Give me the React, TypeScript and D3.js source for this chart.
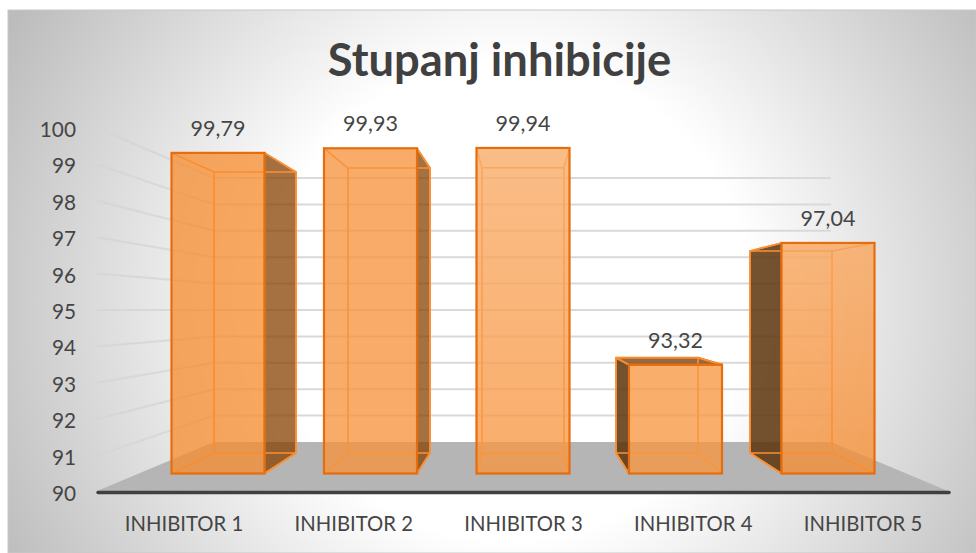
import React from "react";
import * as d3 from "d3";

const categories = ["INHIBITOR 1", "INHIBITOR 2", "INHIBITOR 3", "INHIBITOR 4", "INHIBITOR 5"];
const values = [99.79, 99.93, 99.94, 93.32, 97.04];
const valueLabels = ["99,79", "99,93", "99,94", "93,32", "97,04"];
const ticks = [90, 91, 92, 93, 94, 95, 96, 97, 98, 99, 100];
const title = "Stupanj inhibicije";

const frontTopLight = [0.0, 0.05, 0.24, 0.07, 0.18];
const frontBottomLight = [0.0, 0.05, 0.06, 0.07, 0.0];
const sideColors = ["#884200", "#884200", "#884200", "#5c320a", "#5c320a"];
const sideOpacity = [0.75, 0.75, 0.75, 0.85, 0.85];

const W = 976, H = 553;
const font = "Lato, 'Open Sans', sans-serif";
const txt = "#454545";
const edge = "#e66d0d";
const inner = "#fb9033";

// Perspective planes of the 3-D box
const wallFrontY = d3.scaleLinear().domain([90, 100]).range([492, 128]);
const wallBackY = d3.scaleLinear().domain([90, 100]).range([442, 178]);
const barFrontY = d3.scaleLinear().domain([90, 100]).range([473.5, 146]);
const barBackY = d3.scaleLinear().domain([90, 100]).range([453, 166]);

const idx = categories.map((_, i) => i);
const barFrontX = d3.scaleLinear().domain([0, 4]).range([218, 828]);
const barBackX = d3.scaleLinear().domain([0, 4]).range([255, 791]);
const catX = d3.scalePoint<string>().domain(categories).range([184, 863]);
const FW = 46.5, BW = 41;

const pts = (a: number[][]) => a.map((p) => p.join(",")).join(" ");

export default function App() {
  return (
    <svg width={W} height={H} viewBox={`0 0 ${W} ${H}`} style={{ position: "absolute", left: 0, top: 0, display: "block" }}>
      <defs>
        <radialGradient id="bg" gradientUnits="userSpaceOnUse" cx={510} cy={300} r={570}>
          <stop offset="0" stopColor="#ffffff" />
          <stop offset="0.42" stopColor="#ffffff" />
          <stop offset="1" stopColor="#bcbcbc" />
        </radialGradient>
        {idx.map((i) => (
          <linearGradient key={i} id={`light${i}`} x1={0} x2={0} y1={0} y2={1}>
            <stop offset="0" stopColor="#fff" stopOpacity={frontTopLight[i]} />
            <stop offset="1" stopColor="#fff" stopOpacity={frontBottomLight[i]} />
          </linearGradient>
        ))}
      </defs>
      <rect x={0} y={0} width={W} height={H} fill="#ffffff" />
      <rect x={8} y={10} width={W - 8} height={H - 10} fill="url(#bg)" stroke="#c8c8c8" strokeWidth={1} />

      <text x={499.5} y={76} textAnchor="middle" fontFamily={font} fontWeight={700} fontSize={45.3} fill="#404040">{title}</text>

      {/* walls */}
      {ticks.slice(1).map((t) => (
        <g key={t} fill="none" strokeWidth={2}>
          <line x1={97} x2={214} y1={wallFrontY(t)} y2={wallBackY(t)} stroke="#d4d4d4" opacity={0.8} />
          <line x1={214} x2={831} y1={wallBackY(t)} y2={wallBackY(t)} stroke="#d9d9d9" />
        </g>
      ))}
      {/* floor */}
      <polygon points={pts([[97, 491], [214, wallBackY(90)], [831, wallBackY(90)], [948, 491]])} fill="#b5b5b5" />
      <line x1={98} x2={949} y1={492.5} y2={492.5} stroke="#404040" strokeWidth={3.5} strokeLinecap="round" />

      {ticks.map((t) => (
        <text key={t} x={76} y={wallFrontY(t) + 9} textAnchor="end" fontFamily={font} fontSize={20.8} fill={txt}>{t}</text>
      ))}
      {categories.map((c) => (
        <text key={c} x={catX(c)} y={531} textAnchor="middle" fontFamily={font} fontSize={20.3} fill={txt}>{c}</text>
      ))}

      {/* bars */}
      {idx.map((i) => {
        const v = values[i];
        const fl = barFrontX(i) - FW, fr = barFrontX(i) + FW;
        const bl = barBackX(i) - BW, br = barBackX(i) + BW;
        const ft = barFrontY(v), fb = barFrontY(90);
        const bt = barBackY(v), bb = barBackY(90);
        const side = br > fr
          ? [[fr, ft], [br, bt], [br, bb], [fr, fb]]
          : bl < fl
          ? [[fl, ft], [bl, bt], [bl, bb], [fl, fb]]
          : null;
        return (
          <g key={categories[i]}>
            {side && <polygon points={pts(side)} fill={sideColors[i]} fillOpacity={sideOpacity[i]} stroke={inner} strokeWidth={1.5} strokeLinejoin="round" />}
            {bt < ft && <polygon points={pts([[fl, ft], [bl, bt], [br, bt], [fr, ft]])} fill="#8a5a2e" fillOpacity={0.9} stroke={edge} strokeWidth={2} strokeLinejoin="round" />}
            <polygon points={pts([[bl, bt], [br, bt], [br, bb], [bl, bb]])} fill="none" stroke={inner} strokeWidth={1.6} />
            <g stroke={inner} strokeWidth={1.6} fill="none">
              <line x1={fl} y1={ft} x2={bl} y2={bt} />
              <line x1={fr} y1={ft} x2={br} y2={bt} />
              <line x1={fl} y1={fb} x2={bl} y2={bb} />
              <line x1={fr} y1={fb} x2={br} y2={bb} />
            </g>
            <rect x={fl} y={ft} width={fr - fl} height={fb - ft} fill="#f78c2f" fillOpacity={0.76} />
            <rect x={fl} y={ft} width={fr - fl} height={fb - ft} fill={`url(#light${i})`} stroke={edge} strokeWidth={2.2} />
            <text x={barFrontX(i)} y={ft - 17} textAnchor="middle" fontFamily={font} fontSize={21.5} fill={txt}>{valueLabels[i]}</text>
          </g>
        );
      })}
    </svg>
  );
}
